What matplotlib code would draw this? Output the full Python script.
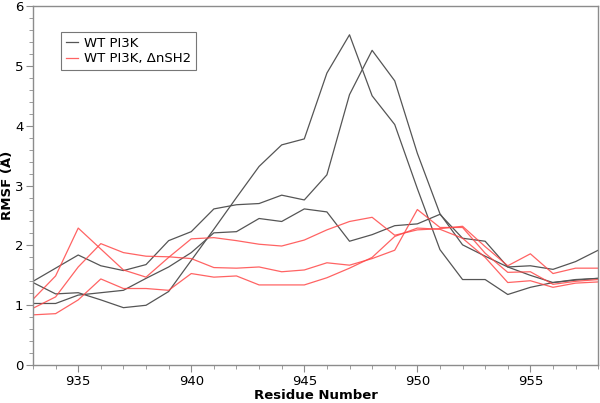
import numpy as np
import matplotlib
matplotlib.use("Agg")
import matplotlib.pyplot as plt
from matplotlib.ticker import MultipleLocator

# residue numbers 933..958
residues = list(range(933, 959))

# WT PI3K (three runs, grey)
wt_1 = [1.40, 1.62, 1.84, 1.66, 1.58, 1.68, 2.08, 2.23, 2.61, 2.68, 2.70, 2.84, 2.76,
        3.18, 4.52, 5.26, 4.75, 3.54, 2.53, 2.01, 1.82, 1.64, 1.50, 1.38, 1.42, 1.45]
wt_2 = [1.38, 1.19, 1.21, 1.09, 0.96, 1.00, 1.23, 1.75, 2.27, 2.80, 3.32, 3.68, 3.78,
        4.88, 5.52, 4.50, 4.02, 2.95, 1.93, 1.43, 1.43, 1.18, 1.30, 1.38, 1.43, 1.45]
wt_3 = [1.03, 1.03, 1.17, 1.21, 1.25, 1.45, 1.64, 1.88, 2.21, 2.23, 2.45, 2.40, 2.61,
        2.56, 2.07, 2.18, 2.33, 2.36, 2.52, 2.12, 2.07, 1.64, 1.66, 1.60, 1.73, 1.92]

# WT PI3K, delta nSH2 (three runs, red)
dn_1 = [1.10, 1.49, 2.29, 1.94, 1.59, 1.47, 1.80, 2.11, 2.13, 2.08, 2.02, 1.99, 2.09,
        2.26, 2.40, 2.47, 2.17, 2.26, 2.28, 2.32, 1.98, 1.66, 1.86, 1.53, 1.62, 1.62]
dn_2 = [0.95, 1.14, 1.64, 2.03, 1.88, 1.82, 1.81, 1.78, 1.63, 1.62, 1.64, 1.56, 1.59,
        1.71, 1.67, 1.78, 1.92, 2.60, 2.30, 2.30, 1.87, 1.55, 1.56, 1.35, 1.40, 1.43]
dn_3 = [0.84, 0.86, 1.09, 1.44, 1.28, 1.28, 1.25, 1.53, 1.47, 1.49, 1.34, 1.34, 1.34,
        1.46, 1.62, 1.80, 2.15, 2.29, 2.27, 2.12, 1.80, 1.38, 1.41, 1.30, 1.37, 1.39]

grey = "#555555"
red = "#ff4848"
frame = "#8c8c8c"

fig = plt.figure(figsize=(6.0, 4.03), dpi=100)
ax = fig.add_axes([0.055, 0.094, 0.942, 0.891])

for i, s in enumerate([wt_1, wt_2, wt_3]):
    ax.plot(residues, s, color=grey, lw=0.9, label="WT PI3K" if i == 0 else None)
for i, s in enumerate([dn_1, dn_2, dn_3]):
    ax.plot(residues, s, color=red, lw=0.9, alpha=0.85,
            label="WT PI3K, ΔnSH2" if i == 0 else None)

ax.set_xlim(933, 958)
ax.set_ylim(0, 6)
ax.xaxis.set_major_locator(MultipleLocator(5))
ax.xaxis.set_minor_locator(MultipleLocator(1))
ax.yaxis.set_major_locator(MultipleLocator(1))
ax.yaxis.set_minor_locator(MultipleLocator(0.2))

for sp in ax.spines.values():
    sp.set_color(frame)
    sp.set_linewidth(1.0)
ax.tick_params(which="both", direction="out", color=frame, top=False, right=False)
ax.tick_params(which="major", length=5, labelsize=9.5, pad=2)
ax.tick_params(which="minor", length=3)

ax.set_xlabel("Residue Number", fontsize=9.5, fontweight="bold")
ax.set_ylabel("RMSF (Å)", fontsize=9.5, fontweight="bold")
ax.xaxis.set_label_coords(0.5, -0.066)
ax.yaxis.set_label_coords(-0.034, 0.5)

leg = ax.legend(loc="upper left", bbox_to_anchor=(0.05, 0.928), fontsize=9.5,
                frameon=True, fancybox=False, edgecolor="#555555",
                handlelength=0.9, handletextpad=0.5, borderpad=0.35,
                labelspacing=0.2, borderaxespad=0)
leg.get_frame().set_linewidth(0.8)

fig.savefig("out.png", dpi=100)
